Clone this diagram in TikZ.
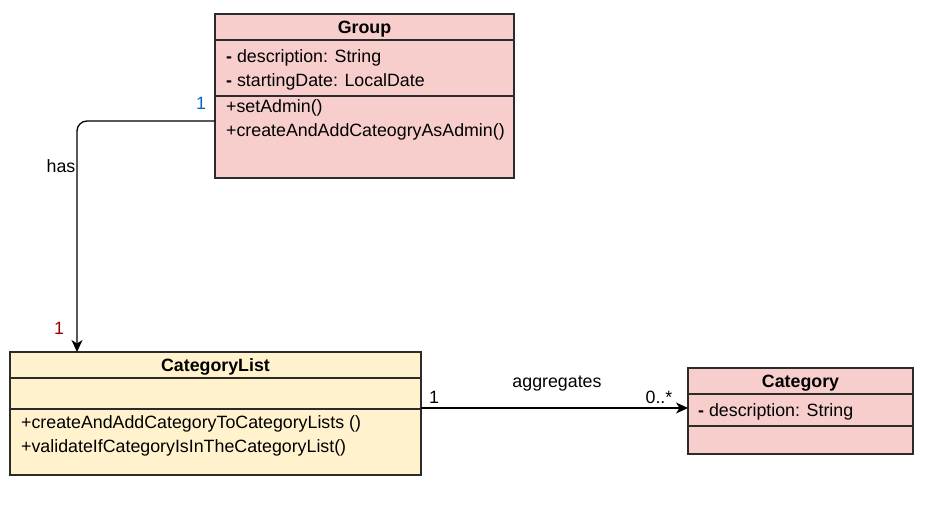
\documentclass[tikz,border=0pt]{standalone}
\usepackage{fontspec}
\setmainfont{Liberation Sans}
\usetikzlibrary{arrows.meta}
\definecolor{pinkf}{HTML}{F8CECC}
\definecolor{yelf}{HTML}{FFF2CC}
\definecolor{strk}{HTML}{2B2B2B}
\definecolor{lblue}{HTML}{0066CC}
\definecolor{lred}{HTML}{990000}
\begin{document}
\begin{tikzpicture}[x=1pt,y=-1pt,
  font=\fontsize{17.8}{20}\selectfont,
  comp/.style={draw=strk, line width=1.3pt, anchor=north west, inner sep=0pt, outer sep=0pt},
  txt/.style={anchor=base west, inner sep=0pt},
  hdr/.style={font=\fontsize{17.8}{20}\selectfont\bfseries, text depth=0pt},
  lbl/.style={inner sep=0pt},
  conn/.style={draw=black, line width=1.3pt},
  tip/.style={-{Stealth[length=12pt,width=11pt,inset=3.5pt]}}]
\useasboundingbox (0,0) rectangle (926,517);

% Group
\node[comp, fill=pinkf, minimum width=299pt, minimum height=26pt, hdr] (gH) at (215,14) {Group};
\node[comp, fill=pinkf, minimum width=299pt, minimum height=56pt] (gA) at (215,40) {};
\node[comp, fill=pinkf, minimum width=299pt, minimum height=82pt] (gM) at (215,96) {};
\node[txt] (g1) at (226,62.5) {\textbf{-} description: String};
\node[txt] (g2) at (226,86) {\textbf{-} startingDate: LocalDate};
\node[txt] (g3) at (226,112.5) {+setAdmin()};
\node[txt] (g4) at (226,136.5) {+createAndAddCateogryAsAdmin()};

% CategoryList
\node[comp, fill=yelf, minimum width=411pt, minimum height=26pt, hdr] (clH) at (10,352) {CategoryList};
\node[comp, fill=yelf, minimum width=411pt, minimum height=31pt] (clA) at (10,378) {};
\node[comp, fill=yelf, minimum width=411pt, minimum height=66pt] (clM) at (10,409) {};
\node[txt] (c1) at (21,428.5) {+createAndAddCategoryToCategoryLists ()};
\node[txt] (c2) at (21,452.5) {+validateIfCategoryIsInTheCategoryList()};

% Category
\node[comp, fill=pinkf, minimum width=225pt, minimum height=26pt, hdr] (caH) at (688,368) {Category};
\node[comp, fill=pinkf, minimum width=225pt, minimum height=32pt] (caA) at (688,394) {};
\node[comp, fill=pinkf, minimum width=225pt, minimum height=28pt] (caM) at (688,426) {};
\node[txt] (a1) at (698,416.5) {\textbf{-} description: String};

% has
\draw[conn, tip, rounded corners=10pt] ([yshift=16pt]gM.west) -| ([xshift=67pt]clH.north west);
\node[lbl, text=lblue] (m1) at (201,103) {1};
\node[lbl] (hasl) at (61,166) {has};
\node[lbl, text=lred] (m2) at (59,328) {1};

% aggregates
\draw[conn, tip] ([yshift=1pt]clM.north east) -- ([yshift=1pt]clM.north east -| caA.west);
\node[lbl] (m3) at (434,397) {1};
\node[lbl] (aggl) at (557,384) {aggregates};
\node[lbl] (m4) at (659,397) {0..*};
\end{tikzpicture}
\end{document}
